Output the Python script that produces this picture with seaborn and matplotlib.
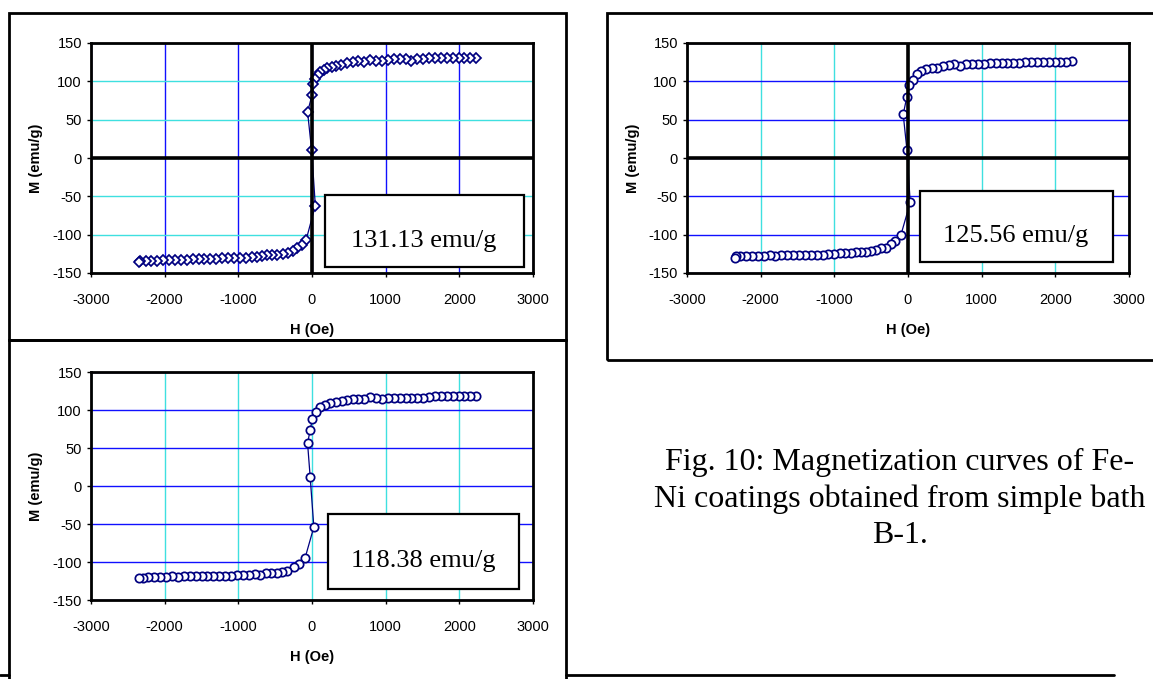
import matplotlib
matplotlib.use("Agg")
import matplotlib.pyplot as plt
import numpy as np
import pandas as pd
import seaborn as sns
from matplotlib.patches import Rectangle
from matplotlib.lines import Line2D

# ---------------- data ----------------
H1 = [2230, 2150, 2070, 1990, 1910, 1830, 1750, 1670, 1590, 1510, 1430, 1350, 1270, 1190, 1110,
      1030, 950, 870, 790, 710, 630, 550, 470, 400, 330, 270, 210, 160, 115, 75, 40, 15, 0, -60,
      -5, 45, -80, -140, -200, -260, -330, -400, -470, -540, -610, -680, -750, -820, -900, -980,
      -1060, -1140, -1220, -1300, -1380, -1460, -1540, -1620, -1700, -1780, -1860, -1940, -2020,
      -2100, -2180, -2260, -2330, -2350]
M1 = [131, 131, 131, 131, 131, 131, 131, 130, 130, 129, 129, 127, 129, 129, 129, 128, 127, 127,
      128, 125, 126, 125, 124, 121, 120, 119, 117, 115, 112, 108, 103, 97, 82, 60, 10, -62, -107,
      -113, -118, -121, -124, -125, -126, -127, -127, -128, -129, -129, -130, -131, -131, -131,
      -131, -132, -132, -132, -132, -132, -133, -133, -133, -133, -133, -134, -134, -134, -134, -135]

H2 = [2230, 2150, 2070, 1990, 1910, 1830, 1750, 1670, 1590, 1510, 1430, 1350, 1270, 1190, 1110,
      1030, 950, 870, 790, 710, 630, 550, 470, 400, 320, 240, 170, 120, 65, 15, -15, -65, -15, 30,
      -95, -170, -230, -300, -360, -430, -500, -570, -640, -710, -780, -850, -920, -1000, -1080,
      -1160, -1240, -1320, -1400, -1480, -1560, -1640, -1720, -1800, -1880, -1960, -2040, -2120,
      -2200, -2280, -2340, -2350]
M2 = [126, 125, 125, 125, 125, 125, 125, 125, 125, 124, 124, 124, 124, 124, 124, 123, 122, 122,
      122, 120, 122, 121, 120, 117, 117, 116, 113, 109, 102, 95, 80, 57, 11, -58, -100, -108, -112,
      -117, -118, -120, -121, -122, -123, -123, -124, -124, -124, -125, -125, -126, -126, -126,
      -126, -126, -126, -126, -127, -128, -127, -128, -128, -128, -128, -128, -128, -130]

H3 = [2230, 2150, 2070, 1990, 1910, 1830, 1750, 1670, 1590, 1510, 1430, 1350, 1270, 1190, 1110,
      1030, 950, 870, 790, 710, 630, 550, 480, 410, 330, 240, 170, 115, 55, 5, -25, -60, -25, 25,
      -95, -175, -245, -335, -410, -480, -550, -620, -700, -780, -860, -940, -1020, -1100, -1180,
      -1260, -1340, -1420, -1500, -1580, -1660, -1740, -1820, -1900, -1980, -2060, -2140, -2220,
      -2300, -2350]
M3 = [119, 118, 118, 118, 118, 118, 118, 118, 117, 116, 116, 116, 116, 116, 116, 116, 115, 116,
      117, 115, 115, 114, 113, 112, 111, 109, 107, 104, 98, 88, 74, 56, 12, -54, -95, -103, -107,
      -112, -113, -114, -114, -115, -117, -116, -117, -117, -117, -118, -118, -119, -119, -119,
      -119, -119, -119, -119, -120, -119, -120, -120, -120, -120, -121, -121]

x_ticks = [-3000, -2000, -1000, 0, 1000, 2000, 3000]
y_ticks = [-150, -100, -50, 0, 50, 100, 150]
box_labels = ["131.13 emu/g", "125.56 emu/g", "118.38 emu/g"]
x_label = "H (Oe)"
y_label = "M (emu/g)"
caption_lines = ["Fig. 10: Magnetization curves of Fe-",
                 "Ni coatings obtained from simple bath",
                 "B-1."]

# ---------------- style ----------------
sns.set_style("white")
plt.rcParams['font.family'] = ['Liberation Sans', 'DejaVu Sans']

NAVY = "#000080"
BLUE = "#1010FF"
CYAN = "#3FE0E0"

W, HH = 1153, 679
fig = plt.figure(figsize=(W / 100, HH / 100), dpi=100)
fig.patch.set_facecolor("white")


def frac_rect(l, t, r, b):
    return [l / W, 1 - b / HH, (r - l) / W, (b - t) / HH]


panels = [
    dict(H=H1, M=M1, marker='D', ms=5.4, rect=(91, 43, 533, 273), vcol=BLUE, hcol=CYAN,
         zero=True, box=(325, 195, 524, 267), txt=(424, 247), xl=330, yl=36, lab=box_labels[0]),
    dict(H=H2, M=M2, marker='o', ms=6.0, rect=(687, 43, 1129, 273), vcol=CYAN, hcol=BLUE,
         zero=True, box=(920, 191, 1113, 262), txt=(1016, 242), xl=330, yl=633, lab=box_labels[1]),
    dict(H=H3, M=M3, marker='o', ms=6.0, rect=(91, 372, 533, 600), vcol=CYAN, hcol=BLUE,
         zero=False, box=(328, 514, 519, 589), txt=(423, 567), xl=657, yl=36, lab=box_labels[2]),
]

for p in panels:
    l, t, r, b = p['rect']
    ax = fig.add_axes(frac_rect(l, t, r, b))
    ax.set_facecolor("white")
    df = pd.DataFrame({"H": p['H'], "M": p['M']})
    sns.lineplot(data=df, x="H", y="M", sort=False, estimator=None, ax=ax,
                 color=NAVY, linewidth=0.9, marker=p['marker'], markersize=p['ms'],
                 markerfacecolor="white", markeredgecolor=NAVY, markeredgewidth=1.25,
                 zorder=3)
    ax.set_xlim(x_ticks[0], x_ticks[-1])
    ax.set_ylim(y_ticks[0], y_ticks[-1])
    ax.set_xticks(x_ticks)
    ax.set_yticks(y_ticks)
    ax.set_xticklabels([str(v) for v in x_ticks])
    ax.set_yticklabels([str(v) for v in y_ticks])
    ax.set_axisbelow(True)
    ax.xaxis.grid(True, color=p['vcol'], linewidth=1.0)
    ax.yaxis.grid(True, color=p['hcol'], linewidth=1.0)
    if p['zero']:
        ax.axhline(0, color="black", linewidth=2.6, zorder=4)
        ax.axvline(0, color="black", linewidth=2.6, zorder=4)
    for s in ax.spines.values():
        s.set_visible(True)
        s.set_color("black")
        s.set_linewidth(2.0)
    ax.tick_params(axis='both', which='major', direction='out', length=3, width=1,
                   color='black', labelsize=10.5, labelcolor='black',
                   bottom=True, left=True, top=False, right=False)
    ax.tick_params(axis='x', pad=11.5)
    ax.tick_params(axis='y', pad=3.5)
    ax.set_xlabel(x_label, fontweight='bold', fontsize=10.5, va='center', color='black')
    ax.set_ylabel(y_label, fontweight='bold', fontsize=10.5, va='center', color='black')
    ax.xaxis.set_label_coords(0.5, (b - p['xl']) / (b - t))
    ax.yaxis.set_label_coords((p['yl'] - l) / (r - l), 0.5)

    bl, bt, br, bb = p['box']
    fig.add_artist(Rectangle((bl / W, 1 - bb / HH), (br - bl) / W, (bb - bt) / HH,
                             transform=fig.transFigure, facecolor="white",
                             edgecolor="black", linewidth=1.6, zorder=5))
    fig.text(p['txt'][0] / W, 1 - p['txt'][1] / HH, p['lab'], ha='center', va='baseline',
             fontsize=19, family='Liberation Serif', color='black', zorder=6)

# outer frames
for (l, t, r, b) in [(9, 13, 566, 340), (9, 340, 566, 700), (607, 13, 1170, 360)]:
    fig.add_artist(Rectangle((l / W, 1 - b / HH), (r - l) / W, (b - t) / HH,
                             transform=fig.transFigure, fill=False,
                             edgecolor="black", linewidth=2.0, zorder=7))
# bottom rule
for (x0, x1) in [(0, 9), (566, 1114)]:
    fig.add_artist(Line2D([x0 / W, x1 / W], [1 - 675 / HH, 1 - 675 / HH],
                          transform=fig.transFigure, color="black", linewidth=2.0))

# caption
for txt, yb in zip(caption_lines, [470, 507, 543]):
    fig.text(900 / W, 1 - yb / HH, txt, ha='center', va='baseline', fontsize=23,
             family='Liberation Serif', color='black')

fig.savefig("out.png", dpi=100)
